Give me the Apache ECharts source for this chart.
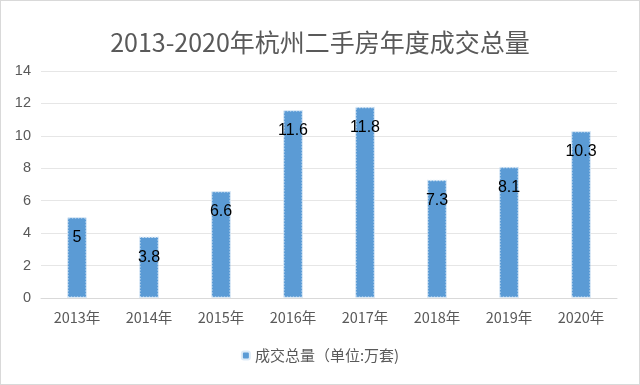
<!DOCTYPE html>
<html><head><meta charset="utf-8">
<script src="https://cdn.jsdelivr.net/npm/echarts@6/dist/echarts.min.js"></script>
<style>html,body{margin:0;padding:0;background:#fff}#c{width:638px;height:383px;border:1px solid #d9d9d9}</style>
</head><body><div id="c"></div>
<script>
var categories = ['2013年','2014年','2015年','2016年','2017年','2018年','2019年','2020年'];
var volumes = [5, 3.8, 6.6, 11.6, 11.8, 7.3, 8.1, 10.3];
var seriesName = '成交总量（单位:万套)';
var chart = echarts.init(document.getElementById('c'));
chart.setOption({
  animation: false,
  title: {text: '2013-2020年杭州二手房年度成交总量', left: 'center', top: 24,
    textStyle: {fontFamily: 'Noto Sans CJK SC', fontSize: 25, fontWeight: 'normal', color: '#595959'}},
  legend: {bottom: 16, left: 'center', itemWidth: 8, itemHeight: 8, itemGap: 6,
    textStyle: {fontFamily: 'Noto Sans CJK SC', fontSize: 15, color: '#595959'}},
  grid: {left: 40, right: 22, top: 70, bottom: 86},
  xAxis: {type: 'category', data: categories,
    axisLine: {lineStyle: {color: '#d9d9d9'}}, axisTick: {show: false},
    axisLabel: {fontFamily: 'Noto Sans CJK SC', fontSize: 14.5, color: '#595959', margin: 12}},
  yAxis: {type: 'value', min: 0, max: 14, interval: 2,
    axisLine: {show: false}, axisTick: {show: false},
    splitLine: {lineStyle: {color: '#e6e6e6'}},
    axisLabel: {fontFamily: 'Liberation Sans', fontSize: 14.5, color: '#595959', margin: 10}},
  series: [{name: seriesName, type: 'bar', data: volumes, barWidth: 20,
    itemStyle: {color: '#5B9BD5', borderColor: '#DEEBF7', borderWidth: 1.5, borderType: 'dotted'},
    label: {show: true, position: 'insideTop', distance: 13, fontFamily: 'Liberation Sans', fontSize: 16, color: '#000'}}]
});
</script></body></html>
